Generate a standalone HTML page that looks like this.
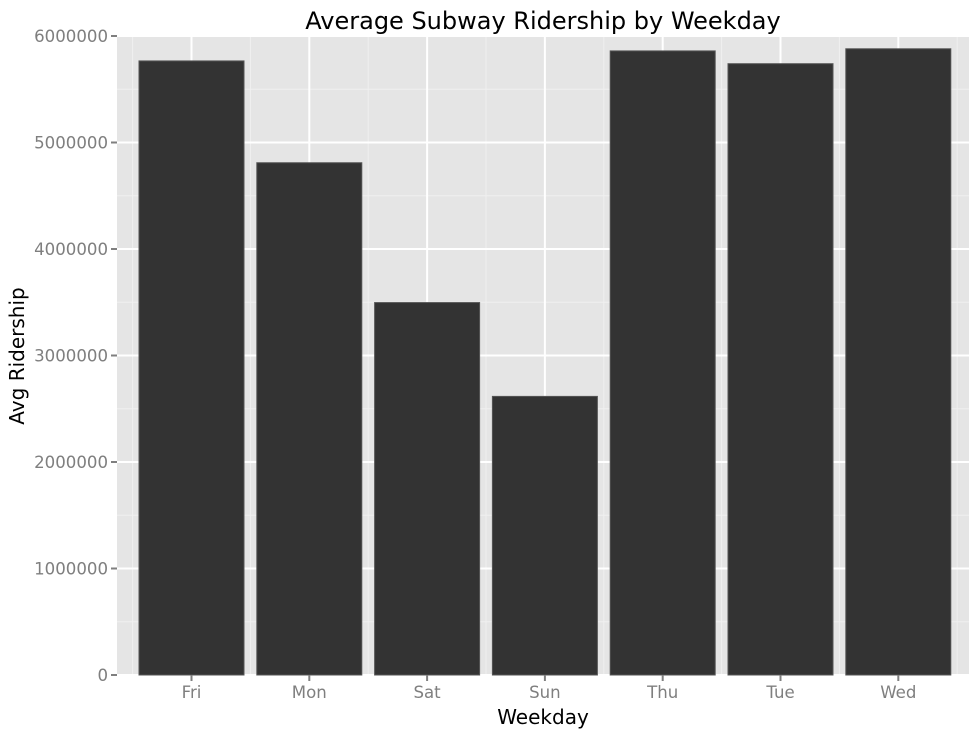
<!DOCTYPE html>
<html><head><meta charset="utf-8"><style>
html,body{margin:0;padding:0;background:#fff;}
svg{display:block;font-family:"DejaVu Sans","Liberation Sans",sans-serif;}
</style></head><body>
<svg id="chart" width="979" height="738">
<rect x="117" y="36" width="852" height="639" fill="#e5e5e5"/>
<g id="grid"></g><g id="bars"></g><g id="axes"></g>
<text x="543" y="29" text-anchor="middle" font-size="24" fill="#000">Average Subway Ridership by Weekday</text>
<text x="543" y="724" text-anchor="middle" font-size="20" fill="#000">Weekday</text>
<text x="24" y="356" text-anchor="middle" font-size="20" fill="#000" transform="rotate(-90 24 356)">Avg Ridership</text>
</svg>
<script>
const categories=["Fri","Mon","Sat","Sun","Thu","Tue","Wed"];
const ridership=[5766000,4810000,3497000,2616000,5860000,5740000,5880000];
const yTicks=[0,1000000,2000000,3000000,4000000,5000000,6000000];
const NS="http://www.w3.org/2000/svg";
const y0=675,y1=36,ymax=6000000;
function yS(v){return y0-(v/ymax)*(y0-y1);}
function xS(i){return 191.5+i*117.8;}
const bw=105;
function mk(tag,attrs,parent){const e=document.createElementNS(NS,tag);for(const k in attrs)e.setAttribute(k,attrs[k]);parent.appendChild(e);return e;}
const grid=document.getElementById('grid'),bars=document.getElementById('bars'),axes=document.getElementById('axes');
for(let i=0;i<yTicks.length-1;i++){
  const m=(yTicks[i]+yTicks[i+1])/2;
  const l=mk('line',{x1:117,x2:969,y1:yS(m),y2:yS(m),stroke:'#f0f0f0','stroke-width':1},grid);
  
  
}
for(let i=0;i<=categories.length;i++){
  const x=(xS(i)+xS(i-1))/2;
  if(x<117||x>969)continue;
  const l=mk('line',{x1:x,x2:x,y1:36,y2:675,stroke:'#f0f0f0','stroke-width':1},grid);
  
  
}
yTicks.forEach(v=>{
  const l=mk('line',{x1:117,x2:969,y1:yS(v),y2:yS(v),stroke:'#fff','stroke-width':2},grid);
  
  
  const t=mk('line',{x1:111,x2:117,y1:yS(v),y2:yS(v),stroke:'#7f7f7f','stroke-width':2},axes);
  
  
  const tx=mk('text',{x:108,y:yS(v)+6,'text-anchor':'end','font-size':16.6,fill:'#7f7f7f'},axes);
  tx.textContent=String(v);
  
  
});
categories.forEach((c,i)=>{
  const x=xS(i);
  const l=mk('line',{x1:x,x2:x,y1:36,y2:675,stroke:'#fff','stroke-width':2},grid);
  
  
  const b=mk('rect',{x:x-bw/2,y:yS(ridership[i]),width:bw,height:y0-yS(ridership[i]),fill:'#333','stroke':'#555','stroke-width':1},bars);
  
  
  const t=mk('line',{x1:x,x2:x,y1:675,y2:681,stroke:'#7f7f7f','stroke-width':2},axes);
  
  
  const tx=mk('text',{x:x,y:698,'text-anchor':'middle','font-size':16.6,fill:'#7f7f7f'},axes);
  tx.textContent=c;
  
  
});
</script>
</body></html>
